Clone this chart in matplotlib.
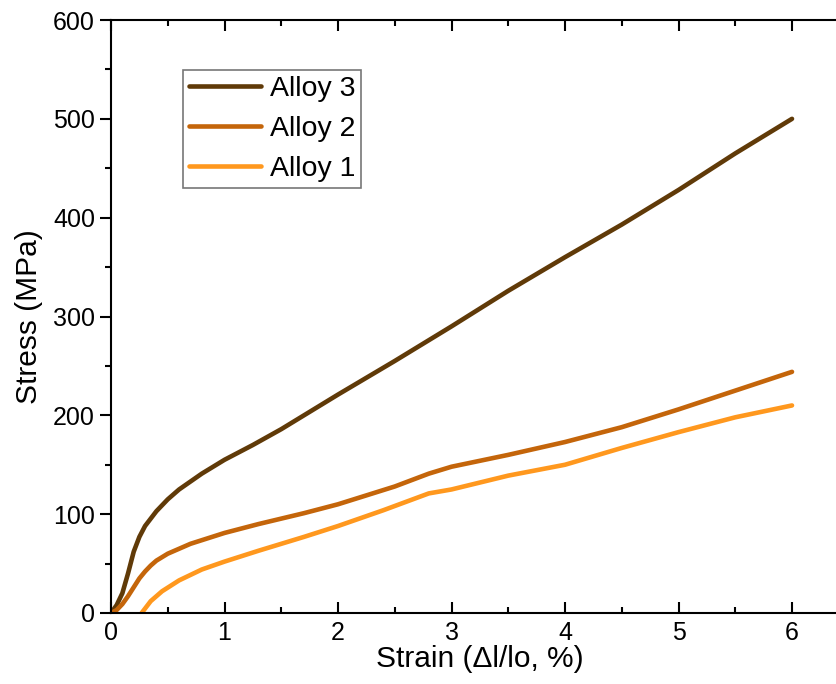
import matplotlib
matplotlib.use("Agg")
import matplotlib.pyplot as plt
from matplotlib.ticker import MultipleLocator

plt.rcParams['font.family'] = ['Liberation Sans', 'DejaVu Sans']

# stress-strain curves
strain_3 = [0, 0.05, 0.1, 0.15, 0.2, 0.25, 0.3, 0.4, 0.5, 0.6, 0.8, 1.0, 1.25, 1.5,
            2.0, 2.5, 3.0, 3.5, 4.0, 4.5, 5.0, 5.5, 6.0]
stress_3 = [0, 8, 20, 40, 62, 77, 88, 103, 115, 125, 141, 155, 170, 186,
            221, 255, 290, 326, 360, 393, 428, 465, 500]

strain_2 = [0, 0.05, 0.1, 0.15, 0.2, 0.25, 0.3, 0.35, 0.4, 0.5, 0.7, 1.0, 1.3, 1.7, 2.0,
            2.5, 2.8, 3.0, 3.5, 4.0, 4.5, 5.0, 5.5, 6.0]
stress_2 = [0, 3, 9, 17, 26, 35, 42, 48, 53, 60, 70, 81, 90, 101, 110,
            128, 141, 148, 160, 173, 188, 206, 225, 244]

strain_1 = [0.27, 0.35, 0.45, 0.6, 0.8, 1.0, 1.3, 1.7, 2.0, 2.4, 2.8, 3.0, 3.5,
            4.0, 4.5, 5.0, 5.5, 6.0]
stress_1 = [0, 12, 22, 33, 44, 52, 63, 77, 88, 104, 121, 125, 139,
            150, 167, 183, 198, 210]

labels = ["Alloy 3", "Alloy 2", "Alloy 1"]
colors = ["#603A08", "#C4650A", "#FF981E"]

fig = plt.figure(figsize=(8.36, 6.84), dpi=100)
ax = fig.add_axes([111/836, 71/684, 737.75/836, 593/684])

for xs, ys, lab, col in zip([strain_3, strain_2, strain_1],
                            [stress_3, stress_2, stress_1], labels, colors):
    ax.plot(xs, ys, color=col, lw=3.3, label=lab, solid_capstyle='round',
            solid_joinstyle='round')

ax.set_xlim(0, 6.5)
ax.set_ylim(0, 600)
ax.xaxis.set_major_locator(MultipleLocator(1))
ax.xaxis.set_minor_locator(MultipleLocator(0.5))
ax.yaxis.set_major_locator(MultipleLocator(100))
ax.yaxis.set_minor_locator(MultipleLocator(50))

for s in ax.spines.values():
    s.set_linewidth(1.5)

ax.tick_params(axis='x', which='both', direction='in', top=True, width=1.5, labelsize=18, pad=6)
ax.tick_params(axis='x', which='major', length=8)
ax.tick_params(axis='x', which='minor', length=4.5)
ax.tick_params(axis='y', which='both', direction='out', right=False, width=1.5, labelsize=18)
ax.tick_params(axis='y', which='major', length=8)
ax.tick_params(axis='y', which='minor', length=4.5)

ax.set_xlabel("Strain (\u0394l/lo, %)", fontsize=21.5, labelpad=0)
ax.set_ylabel("Stress (MPa)", fontsize=21.5, labelpad=7)

leg = ax.legend(loc='upper left', bbox_to_anchor=(0.0976, 0.916), fontsize=20.5,
                frameon=True, fancybox=False, handlelength=2.55, handletextpad=0.3,
                labelspacing=0.5, borderpad=0.2, borderaxespad=0)
leg.get_frame().set_edgecolor('#555555')
leg.get_frame().set_linewidth(1.2)

fig.savefig("out.png", dpi=100)
